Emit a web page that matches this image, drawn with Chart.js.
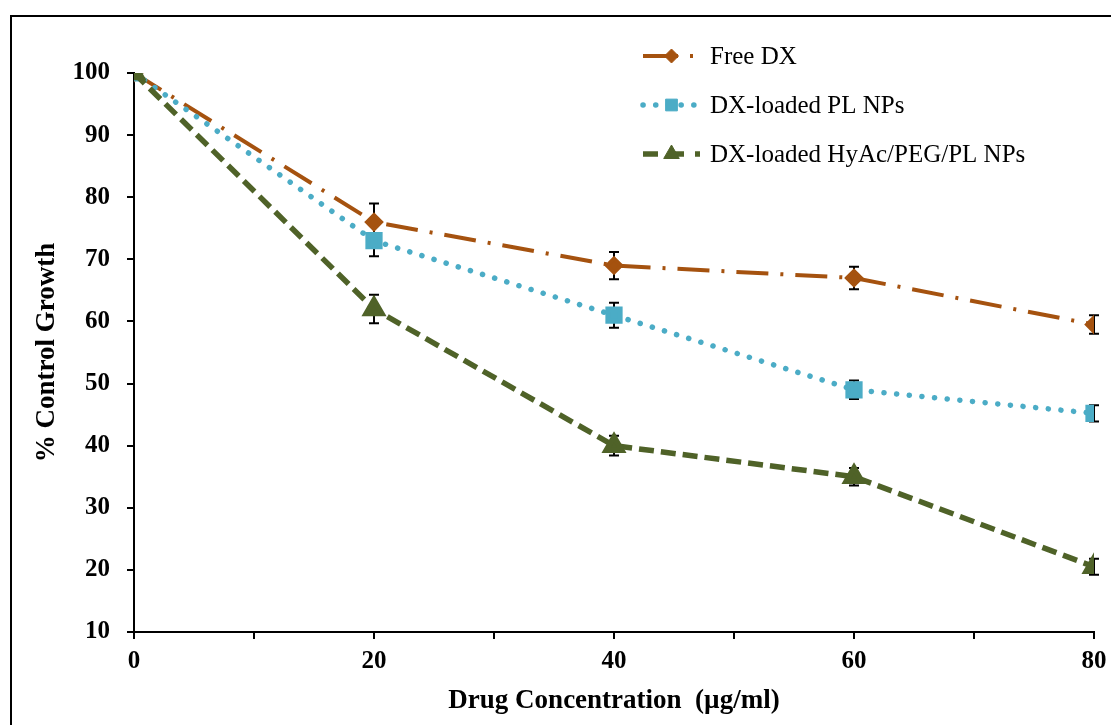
<!DOCTYPE html>
<html>
<head>
<meta charset="utf-8">
<script src="https://cdn.jsdelivr.net/npm/chart.js@4.4.1/dist/chart.umd.min.js"></script>
<style>
  html, body { margin: 0; padding: 0; background: #fff; overflow: hidden; }
  #wrap { position: relative; width: 1111px; height: 725px; }
  #frame { position: absolute; left: 10px; top: 15px; width: 1120px; height: 730px; border: 2px solid #000; box-sizing: border-box; pointer-events: none; }
  canvas { position: absolute; left: 0; top: 0; }
</style>
</head>
<body>
<div id="wrap">
  <canvas id="growthChart" width="1111" height="725"></canvas>
  <div id="frame"></div>
</div>
<script>
// data
const concentrations = [0, 20, 40, 60, 80];
const seriesNames = ['Free DX', 'DX-loaded PL NPs', 'DX-loaded HyAc/PEG/PL NPs'];
const freeDX = [100, 76, 69, 67, 59.5];
const freeDXErr = [0, 3, 2.2, 1.8, 1.5];
const plNPs = [100, 73, 61, 49, 45.2];
const plNPsErr = [0, 2.5, 2, 1.5, 1.3];
const hyacNPs = [100, 62, 40, 35, 20.5];
const hyacNPsErr = [0, 2.3, 1.6, 1.4, 1.3];

const serif = "'Liberation Serif', 'Times New Roman', serif";

function toPoints(ys) {
  return concentrations.map((x, i) => ({ x: x, y: ys[i] }));
}

// error bars, drawn under the markers
const errorBars = {
  id: 'errorBars',
  beforeDatasetsDraw(chart) {
    const ctx = chart.ctx;
    const xs = chart.scales.x, ys = chart.scales.y;
    ctx.save();
    ctx.strokeStyle = '#000';
    ctx.lineWidth = 2;
    chart.data.datasets.forEach(ds => {
      ds.data.forEach((p, i) => {
        const e = ds.errors[i];
        if (!e) return;
        const px = xs.getPixelForValue(p.x);
        const top = ys.getPixelForValue(p.y + e);
        const bot = ys.getPixelForValue(p.y - e);
        ctx.beginPath();
        ctx.moveTo(px, top); ctx.lineTo(px, bot);
        ctx.moveTo(px - 5, top); ctx.lineTo(px + 5, top);
        ctx.moveTo(px - 5, bot); ctx.lineTo(px + 5, bot);
        ctx.stroke();
      });
    });
    ctx.restore();
  }
};

// legend with line sample and marker, top right
const lineLegend = {
  id: 'lineLegend',
  afterDraw(chart) {
    const ctx = chart.ctx;
    const x0 = 643, x1 = 700, tx = 710;
    const rows = [56, 105, 154];
    ctx.save();
    chart.data.datasets.forEach((ds, i) => {
      const y = rows[i];
      ctx.save();
      ctx.strokeStyle = ds.borderColor;
      ctx.lineWidth = ds.borderWidth;
      ctx.lineCap = ds.borderCapStyle || 'butt';
      ctx.setLineDash(ds.legendDash || ds.borderDash || []);
      ctx.beginPath();
      ctx.moveTo(x0, y); ctx.lineTo(x1, y);
      ctx.stroke();
      ctx.restore();
      ctx.fillStyle = ds.pointBackgroundColor;
      ctx.strokeStyle = ds.pointBorderColor;
      Chart.helpers.drawPoint(ctx, {
        pointStyle: ds.pointStyle, radius: ds.pointRadius, borderWidth: 1, rotation: 0
      }, (x0 + x1) / 2, y);
      ctx.fillStyle = '#000';
      ctx.font = '25px ' + serif;
      ctx.textBaseline = 'middle';
      ctx.fillText(seriesNames[i], tx, y + 1);
    });
    ctx.restore();
  }
};

const ctx = document.getElementById('growthChart').getContext('2d');
const growthChart = new Chart(ctx, {
  type: 'line',
  data: {
    datasets: [
      {
        label: seriesNames[0],
        data: toPoints(freeDX),
        errors: freeDXErr,
        borderColor: '#A5520F',
        borderWidth: 4,
        borderDash: [32, 12, 3, 12],
        legendDash: [35, 12, 3, 12],
        pointStyle: 'rectRot',
        pointRadius: 7,
        pointBackgroundColor: '#A5520F',
        pointBorderColor: '#A5520F',
        order: 3
      },
      {
        label: seriesNames[1],
        data: toPoints(plNPs),
        errors: plNPsErr,
        borderColor: '#4BACC6',
        borderWidth: 5.5,
        borderDash: [0.1, 12.6],
        borderCapStyle: 'round',
        pointStyle: 'rect',
        pointRadius: 8.3,
        pointBackgroundColor: '#4BACC6',
        pointBorderColor: '#4BACC6',
        order: 2
      },
      {
        label: seriesNames[2],
        data: toPoints(hyacNPs),
        errors: hyacNPsErr,
        borderColor: '#4F6228',
        borderWidth: 5.5,
        borderDash: [15, 7],
        legendDash: [15, 11],
        pointStyle: 'triangle',
        pointRadius: 9,
        pointBackgroundColor: '#4F6228',
        pointBorderColor: '#4F6228',
        order: 1
      }
    ]
  },
  options: {
    responsive: false,
    animation: false,
    layout: { padding: { top: 73, right: 13, left: 0, bottom: 0 } },
    plugins: {
      legend: { display: false },
      tooltip: { enabled: false }
    },
    elements: { line: { tension: 0 }, point: { borderWidth: 1 } },
    scales: {
      x: {
        type: 'linear',
        min: 0,
        max: 80,
        afterFit: s => { s.height = 93; s.paddingRight = 17; },
        border: { display: true, color: '#000', width: 2 },
        grid: { drawOnChartArea: false, drawTicks: true, tickLength: 7, color: '#000', lineWidth: 2 },
        ticks: {
          stepSize: 10,
          padding: 8,
          color: '#000',
          maxRotation: 0,
          font: { family: serif, size: 25, weight: 'bold' },
          callback: v => (v % 20 === 0 ? v : '')
        },
        title: {
          display: true,
          text: 'Drug Concentration  (µg/ml)',
          color: '#000',
          font: { family: serif, size: 27, weight: 'bold' },
          padding: { top: 0, bottom: 8 }
        }
      },
      y: {
        min: 10,
        max: 100,
        afterFit: s => { s.width = 134; },
        border: { display: true, color: '#000', width: 2 },
        grid: { drawOnChartArea: false, drawTicks: true, tickLength: 7, color: '#000', lineWidth: 2 },
        ticks: {
          stepSize: 10,
          padding: 17,
          color: '#000',
          font: { family: serif, size: 25, weight: 'bold' }
        },
        title: {
          display: true,
          text: '% Control Growth',
          color: '#000',
          font: { family: serif, size: 27, weight: 'bold' },
          padding: { top: 31, bottom: 0 }
        }
      }
    }
  },
  plugins: [errorBars, lineLegend]
});
</script>
</body>
</html>
